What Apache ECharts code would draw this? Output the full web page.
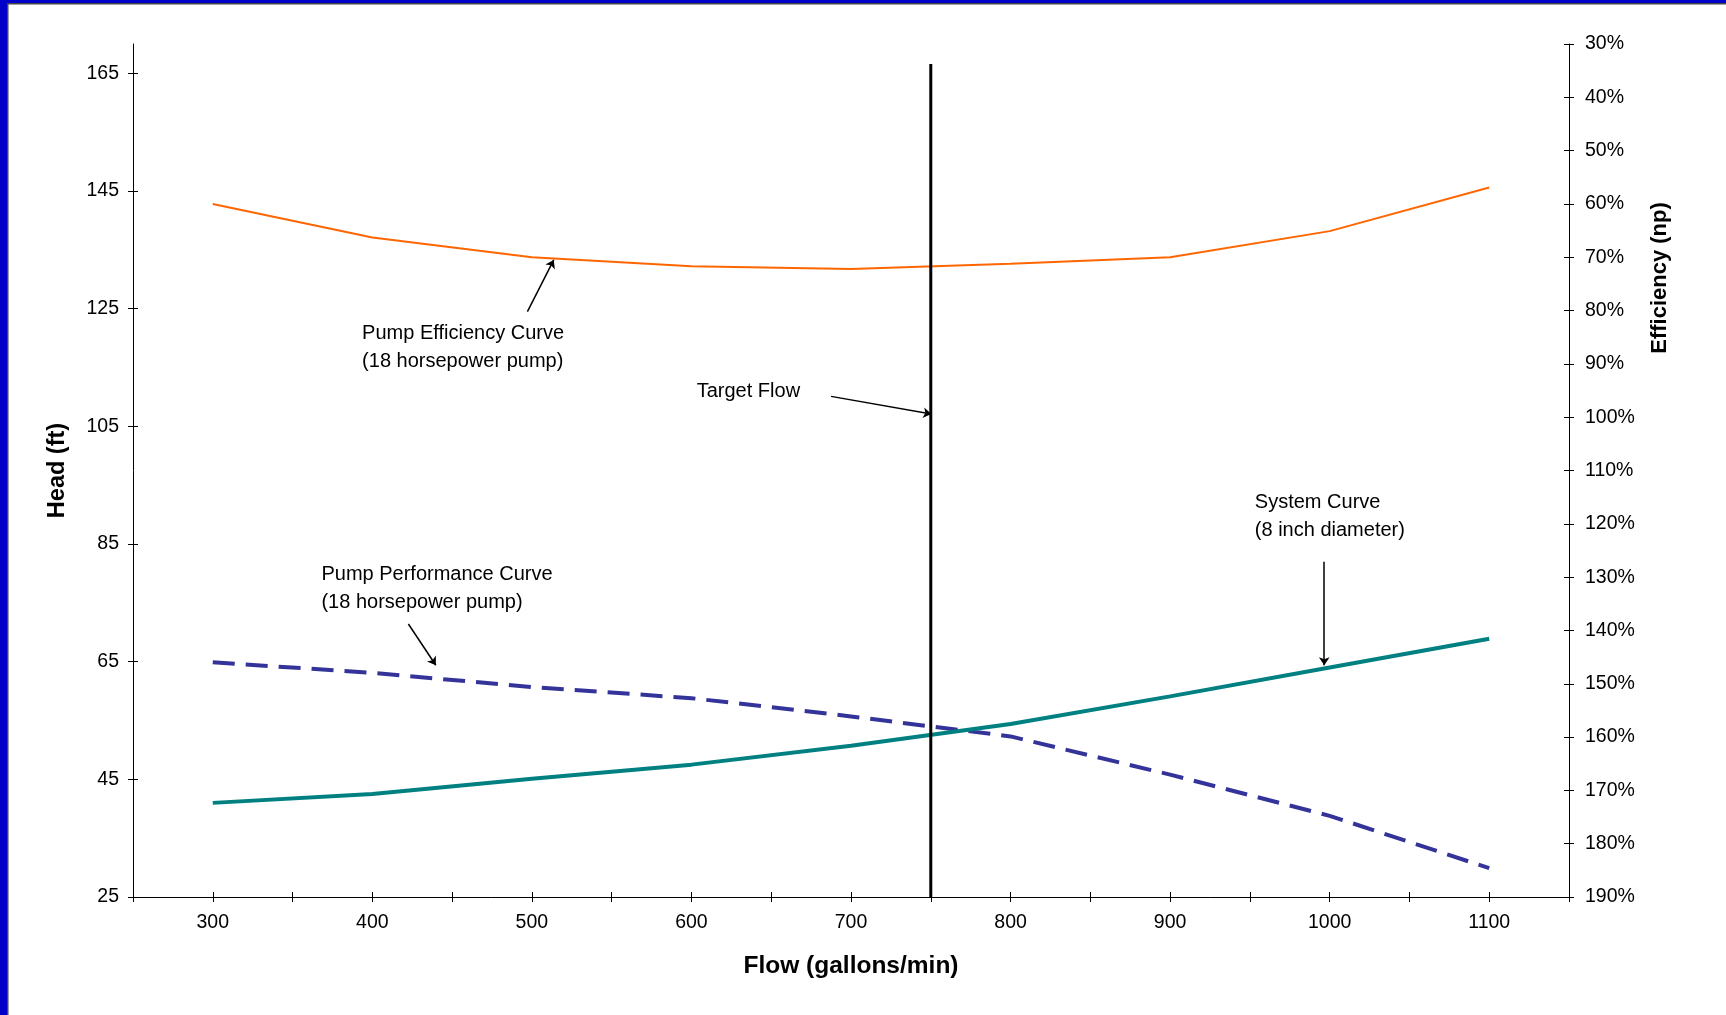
<!DOCTYPE html>
<html><head><meta charset="utf-8">
<script src="https://cdn.jsdelivr.net/npm/echarts@6/dist/echarts.min.js"></script>
<style>html,body{margin:0;padding:0;background:#fff}#c{width:1726px;height:1015px}</style>
</head><body><div id="c"></div>
<script>
// ---- data ----
const flow = [300, 400, 500, 600, 700, 800, 900, 1000, 1100];
const pumpHead = [64.9, 63.1, 60.7, 58.8, 55.7, 52.3, 45.8, 38.8, 29.9];
const systemHead = [41.0, 42.5, 45.1, 47.5, 50.7, 54.4, 59.1, 64.0, 68.9];
const efficiency = [60.0, 66.3, 70.0, 71.7, 72.2, 71.2, 70.0, 65.1, 56.9];
const targetFlow = 750;
const targetHeadRange = [25, 166.6];
const headTicks = [25, 45, 65, 85, 105, 125, 145, 165];
const flowLabels = [300, 400, 500, 600, 700, 800, 900, 1000, 1100];
const annotationTexts = [
  'Pump Efficiency Curve\n(18 horsepower pump)',
  'Target Flow',
  'Pump Performance Curve\n(18 horsepower pump)',
  'System Curve\n(8 inch diameter)'
];
const annotationAnchors = [[393.6, 118.4], [603.3, 111.0], [368.1, 77.5], [953.1, 89.6]];
const arrowFrom = [[497.2, 124.5], [687.5, 110.1], [422.6, 71.4], [996.6, 82.0]];
const arrowTo = [[513.7, 133.3], [750.3, 107.1], [439.8, 64.4], [996.6, 64.4]];

// ---- chart ----
const FONT = '"Liberation Sans", Arial, sans-serif';
const chart = echarts.init(document.getElementById('c'), null, {renderer: 'canvas'});
const zip = (xs, ys) => xs.map((x, i) => [x, ys[i]]);
const tickStyle = {color: '#000', width: 1};
const lineAx = {show: true, lineStyle: {color: '#000', width: 1}};

const xCommon = {type: 'value', min: 250, max: 1150, interval: 50, splitLine: {show: false}, gridIndex: 0};
const yHeadCommon = {type: 'value', min: 25, max: 170, interval: 20, splitLine: {show: false}};
const yEffCommon = {type: 'value', min: 30, max: 190, interval: 10, inverse: true, splitLine: {show: false}};

const option = {
  animation: false,
  backgroundColor: '#ffffff',
  grid: {left: 133, right: 157, top: 44, bottom: 118, containLabel: false},
  xAxis: [
    Object.assign({}, xCommon, {
      position: 'bottom',
      axisLine: lineAx,
      axisTick: {show: true, inside: false, length: 5, lineStyle: tickStyle},
      axisLabel: {show: true, customValues: flowLabels, margin: 16, color: '#000', fontSize: 19.5,
        fontFamily: FONT, formatter: v => String(v)},
      name: 'Flow (gallons/min)', nameLocation: 'middle', nameGap: 57,
      nameTextStyle: {color: '#000', fontSize: 24.5, fontWeight: 'bold', fontFamily: FONT}
    }),
    Object.assign({}, xCommon, {
      position: 'bottom',
      axisLine: {show: false},
      axisTick: {show: true, inside: true, length: 5, lineStyle: tickStyle},
      axisLabel: {show: false}
    })
  ],
  yAxis: [
    Object.assign({}, yHeadCommon, {
      position: 'left',
      axisLine: lineAx,
      axisTick: {show: true, inside: false, length: 5, customValues: headTicks, lineStyle: tickStyle},
      axisLabel: {show: true, customValues: headTicks, margin: 14, color: '#000', fontSize: 19.5,
        fontFamily: FONT, formatter: v => String(v)},
      name: 'Head (ft)', nameLocation: 'middle', nameGap: 63,
      nameTextStyle: {color: '#000', fontSize: 23.5, fontWeight: 'bold', fontFamily: FONT}
    }),
    Object.assign({}, yEffCommon, {
      position: 'right',
      axisLine: lineAx,
      axisTick: {show: true, inside: false, length: 5, lineStyle: tickStyle},
      axisLabel: {show: true, margin: 16, color: '#000', fontSize: 19.5, fontFamily: FONT, formatter: v => v + '%'}
    }),
    Object.assign({}, yHeadCommon, {
      position: 'left',
      axisLine: {show: false},
      axisTick: {show: true, inside: true, length: 5, customValues: headTicks, lineStyle: tickStyle},
      axisLabel: {show: false}
    }),
    Object.assign({}, yEffCommon, {
      position: 'right',
      axisLine: {show: false},
      axisTick: {show: true, inside: true, length: 5, lineStyle: tickStyle},
      axisLabel: {show: false}
    })
  ],
  graphic: [
    {type: 'rect', left: 0, top: 0, shape: {width: 7, height: 1015}, style: {fill: '#0000C8'}, z: 100},
    {type: 'rect', left: 7, top: 0, shape: {width: 1.5, height: 1015}, style: {fill: '#444'}, z: 100},
    {type: 'rect', left: 0, top: 0, shape: {width: 1726, height: 3}, style: {fill: '#0000C8'}, z: 100},
    {type: 'rect', left: 7, top: 3, shape: {width: 1719, height: 1.5}, style: {fill: '#444'}, z: 100},
    {type: 'text', x: 1660, y: 278, rotation: Math.PI / 2,
      style: {text: 'Efficiency (np)', x: 0, y: 0, align: 'center', verticalAlign: 'middle',
        font: 'bold 22px ' + FONT, fill: '#000'}}
  ],
  series: [
    {
      name: 'Pump Efficiency Curve', type: 'line', xAxisIndex: 0, yAxisIndex: 1,
      data: zip(flow, efficiency), symbol: 'none', smooth: false,
      lineStyle: {color: '#FF6600', width: 2}, z: 3
    },
    {
      name: 'Pump Performance Curve', type: 'line', xAxisIndex: 0, yAxisIndex: 0,
      data: zip(flow, pumpHead), symbol: 'none',
      lineStyle: {color: '#333399', width: 4, type: [22, 11]}, z: 3
    },
    {
      name: 'System Curve', type: 'line', xAxisIndex: 0, yAxisIndex: 0,
      data: zip(flow, systemHead), symbol: 'none',
      lineStyle: {color: '#008080', width: 4}, z: 4
    },
    {
      name: 'Target Flow', type: 'line', xAxisIndex: 0, yAxisIndex: 0,
      data: targetHeadRange.map(h => [targetFlow, h]), symbol: 'none',
      lineStyle: {color: '#000', width: 3}, z: 5,
      markLine: {
        silent: true, symbol: ['none', 'arrow'], symbolSize: 8,
        lineStyle: {color: '#000', width: 1.5, type: 'solid', opacity: 1},
        label: {show: false},
        data: arrowFrom.map((p, i) => [{coord: p}, {coord: arrowTo[i]}])
      }
    },
    {
      name: 'Annotations', type: 'scatter', xAxisIndex: 0, yAxisIndex: 0,
      data: annotationAnchors.map((p, i) => [p[0], p[1], annotationTexts[i]]),
      symbolSize: 0, silent: true, itemStyle: {opacity: 1},
      label: {
        show: true, position: 'right', distance: 0, align: 'left', opacity: 1,
        formatter: p => p.data[2], color: '#000', fontSize: 20, lineHeight: 28, fontFamily: FONT
      }, z: 6
    }
  ]
};
chart.setOption(option);
</script>
</body></html>
